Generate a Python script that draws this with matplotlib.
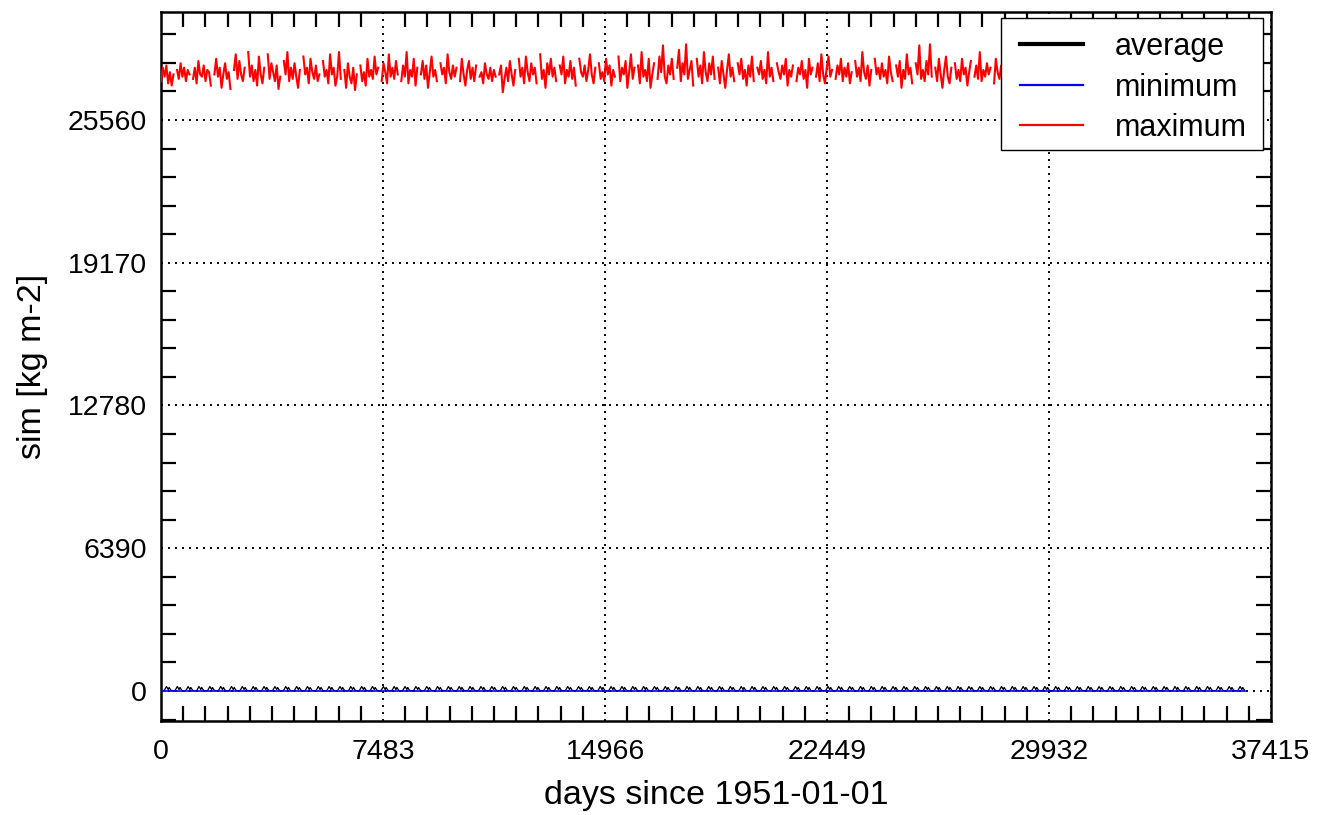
import numpy as np
import matplotlib
matplotlib.use("Agg")
import matplotlib.pyplot as plt
from matplotlib.ticker import FixedLocator, MultipleLocator
from matplotlib.patches import Rectangle
from matplotlib.lines import Line2D

plt.rcParams['font.family'] = ['Liberation Sans', 'DejaVu Sans']

# ---------------- data ----------------
x_ticks = [0, 7483, 14966, 22449, 29932, 37415]
y_ticks = [0, 6390, 12780, 19170, 25560]
series_labels = ['average', 'minimum', 'maximum']
series_colors = ['black', 'blue', 'red']

# maximum series, one value every 60 days (None = gap in the record)
max_step_days = 60
max_values = [
    27300, 27900, 27500, 28000, 27200, 27700, 27100, 27600, None, 27800,
    27400, 28100, 27500, 27900, 27300, 27800, 27600, None, 27400, 27900,
    27200, 28200, 27600, 27500, 28000, 27300, 27800, 27700, 27100, None,
    27600, 28300, 27500, 27900, 27000, 27600, 28100, 27400, 27700, 26950,
    None, 27800, 28500, 27400, 28200, 27600, 27300, 27900, None, 28600,
    27500, 28000, 27300, 27800, 27100, 28400, 27600, 27200, 27900, None,
    28500, 27400, 28100, 27700, 27300, 28000, 26950, 27500, None, 28200,
    27600, 28600, 27300, 27900, 27400, 28100, 27500, 27000, 27800, None,
    28400, 27600, 27900, 27200, 28300, 27700, 27400, 28000, 27300, 27600,
    None, 28200, 27500, 27800, 27200, 28500, 27600, 27900, 27100, 27500,
    28600, 27400, None, 27800, 27000, 28100, 27500, 27200, 27900, 26900,
    27600, None, 28000, 27300, 27700, 27100, 28300, 27500, 27800, 27400,
    28400, 27600, 27900, None, 27300, 28100, 27700, 27200, 28500, 27500,
    27900, 27400, 28200, 27600, None, 27300, 28000, 27500, 28600, 27200,
    27800, 27500, 28300, 27100, 27900, None, 27600, 28200, 27400, 28000,
    27000, 27700, 28400, 27500, 27800, 27300, None, 28100, 27600, 27900,
    27200, 28500, 27700, 27400, 28000, 27500, 27900, None, 27300, 28300,
    27600, 27100, 27800, 28200, 27400, 27900, 27300, 28000, None, 27500,
    27700, 27200, 28100, 27600, 27400, 27900, 27300, 27800, 27500, None,
    27600, 28000, 26800, 27400, 27900, 27300, 28200, 27600, 27100, 27800,
    None, 28300, 27500, 27900, 27200, 28400, 27700, 27300, 28100, 27600,
    27900, 27200, None, 28500, 27400, 27800, 27000, 28100, 27600, 28300,
    27500, 27900, 27300, None, 28000, 27600, 28400, 27200, 27800, 27500,
    28200, 27400, 27900, 27100, None, 28300, 27700, 27500, 28000, 27300,
    27800, 28500, 27600, 27200, 27900, None, 28100, 27400, 27700, 27300,
    28300, 27600, 28000, 27100, 27800, 27500, None, 28400, 27300, 27900,
    27600, 28200, 27000, 27700, 28500, 27400, 27900, None, 28000, 27200,
    28600, 27500, 27800, 27300, 28300, 27000, 27600, 28100, None, 27400,
    28400, 27700, 28900, 27500, 27200, 28000, 27600, 28300, 27400, None,
    27900, 28700, 27300, 28100, 27600, 28950, 27400, 27800, 28200, 27100,
    None, 28300, 27500, 28000, 27200, 28600, 27700, 27300, 28100, 27600,
    28400, 27400, None, 27900, 27200, 28200, 27600, 27000, 27800, 28500,
    27500, 27900, 27300, None, 28100, 27600, 28300, 27400, 27800, 27100,
    28000, 27500, 28400, 27300, None, 27900, 27600, 28200, 27400, 27800,
    27200, 28600, 27500, 27900, 27300, None, 28100, 27700, 27400, 28000,
    27600, 28300, 27100, 27800, 27500, 28000, None, 27300, 27900, 27600,
    28200, 27400, 27800, 27000, 28300, 27600, 27900, None, 27500, 28100,
    27300, 28500, 27600, 27200, 27900, 28400, 27500, 27800, None, 27400,
    28000, 27600, 28300, 27300, 27900, 27500, 28100, 27200, 27700, None,
    28200, 27500, 27900, 27300, 28600, 27700, 27400, 28000, 27100, 27800,
    None, 28300, 27600, 27900, 27400, 28100, 27500, 27800, 27200, 28400,
    27700, 27300, None, 28000, 27500, 28200, 27000, 27800, 27400, 28500,
    27600, 27900, 27200, None, 28100, 27600, 28900, 27400, 27800, 27300,
    28200, 27600, 28950, 27500, None, 27900, 27300, 28300, 27600, 27000,
    27800, 28400, 27500, 27200, 27900, None, 28100, 27400, 27800, 27300,
    28300, 27600, 27900, 27100, 27700, 28200, None, 27500, 28000, 27400,
    28600, 27300, 27800, 27500, 28100, 27600, 27900, None, 27200, 28300,
    27700, 27400, 28000, 27500, 28200, 27300, 27800, 27600, None, 28100,
    27500, 27900, 27200, 28400, 27600, 27800, 27300, 28000, 27500, None,
    27900, 28200, 27400, 27800, 27100, 28300, 27600, 27900, 27300, 28000,
    None, 27700, 28100, 27400, 28500, 27600, 27200, 27900, 27500, 28200,
    27800, 27300, None, 28000, 27600, 28300, 27400, 27800, 27100, 28100,
    27600, 27900, 27300, None, 28200, 27500, 27800, 27400, 28400, 27700,
    27200, 28000, 27600, 27900, None, 27500, 28300, 27300, 27800, 27600,
    28100, 27400, 27900, 27200, 28500, None, 27700, 27400, 28000, 27600,
    27300, 28200, 27800, 27500, 27900, 27100, None, 28300, 27600, 27800,
    27400, 28100, 27600, 27900, 27300, 28000, 27500, None, 27800, 28200,
    27600, 27300, 27900, 28400, 27500, 27800, 27200, 28000, None, 27600,
    27900, 27400, 28200, 27700, 27300, 27800, 27500, 28100, 27600, None,
    27800, 28000, 27400, 27900, 27600, 28300, 27500, 27700, 27200, 28000,
    27500, 27900, 27600,
]

# average series: repeating seasonal pattern (monthly means) over the record
avg_monthly_cycle = [20, 10, 5, 15, 50, 130, 200, 140, 60, 160, 95, 30]
n_years = 100
record_end_day = 36524

# minimum series
min_days = [0, 36524]
min_values = [0, 0]

# ---------------- figure ----------------
W, H, DPI = 1328, 815, 100
fig = plt.figure(figsize=(W / DPI, H / DPI), dpi=DPI)
ax = fig.add_axes([161 / W, 1 - 721 / H, (1271 - 161) / W, (721 - 12) / H])

max_arr = np.array([np.nan if v is None else v for v in max_values], dtype=float)
max_days = np.arange(len(max_arr)) * max_step_days

avg_vals = np.array(avg_monthly_cycle * n_years, dtype=float)
avg_days = np.linspace(0, record_end_day, len(avg_vals))

ax.plot(avg_days, avg_vals, color=series_colors[0], lw=0.9, zorder=3)
ax.plot(min_days, min_values, color=series_colors[1], lw=1.2, zorder=3)
ax.plot(max_days, max_arr, color=series_colors[2], lw=1.5, zorder=3)

ax.set_xlim(0, 37415)
ax.set_ylim(-1343, 30394)

ax.xaxis.set_major_locator(FixedLocator(x_ticks))
ax.yaxis.set_major_locator(FixedLocator(y_ticks))
ax.set_xticklabels([str(v) for v in x_ticks])
ax.set_yticklabels([str(v) for v in y_ticks])
ax.xaxis.set_minor_locator(MultipleLocator(748.3))
ax.yaxis.set_minor_locator(MultipleLocator(1278))

ax.tick_params(which='major', length=0, pad=10, labelsize=20.5)
ax.tick_params(axis='x', which='major', pad=13)
ax.tick_params(which='minor', direction='in', length=11, width=1.6,
               top=True, right=True, bottom=True, left=True)

for s in ax.spines.values():
    s.set_linewidth(1.8)

ax.grid(True, which='major', color='black', lw=1.4,
        linestyle=(0, (1, 2.6)), zorder=2)

ax.set_xlabel('days since 1951-01-01', fontsize=24.5, labelpad=11)
ax.set_ylabel('sim [kg m-2]', fontsize=24.5, labelpad=14)

# ---- legend drawn as a boxed key in the upper right ----
def fx(px):
    return px / W

def fy(py):
    return 1 - py / H

box = Rectangle((fx(1001), fy(150)), fx(1263) - fx(1001), fy(18) - fy(150),
                transform=fig.transFigure, facecolor='white', edgecolor='black',
                lw=1.0, zorder=10)
fig.add_artist(box)
row_y = [44, 85, 125]
row_lw = [3.0, 1.6, 1.6]
for lab, col, ry, lw in zip(series_labels, series_colors, row_y, row_lw):
    fig.add_artist(Line2D([fx(1020), fx(1083)], [fy(ry), fy(ry)],
                          transform=fig.transFigure, color=col, lw=lw, zorder=11))
    fig.text(fx(1115), fy(ry), lab, fontsize=22, ha='left', va='center_baseline',
             zorder=12)

fig.savefig('out.png', dpi=DPI)
